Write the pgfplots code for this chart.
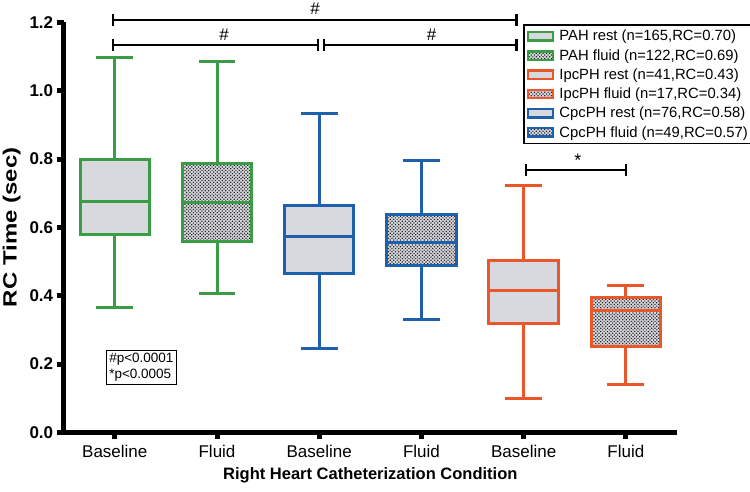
\documentclass[border=0pt]{standalone}
\usepackage{fontspec}
\setmainfont{Liberation Sans}
\usepackage{pgfplots}
\pgfplotsset{compat=1.18}
\usepgfplotslibrary{statistics}
\usetikzlibrary{patterns.meta}
\definecolor{pahgreen}{RGB}{58,156,68}
\definecolor{cpcblue}{RGB}{30,96,172}
\definecolor{ipcorange}{RGB}{235,86,42}
\definecolor{boxgray}{RGB}{216,217,223}
\tikzset{dotpat/.style={postaction={pattern={Dots[distance=2.4pt,radius=0.85pt,angle=45]},pattern color=black!85}}}
\pgfplotsset{
  restleg/.style={legend image code/.code={\draw[line width=2.4pt,draw=#1,fill=boxgray] (0pt,-4.2pt) rectangle (25pt,4.2pt);}},
  fluidleg/.style={legend image code/.code={\draw[line width=2.4pt,draw=#1,fill=boxgray,dotpat] (0pt,-4.2pt) rectangle (25pt,4.2pt);}},
  restbox/.style={line width=3pt, draw=#1, fill=boxgray, solid, forget plot,
     boxplot/every whisker/.style={line width=3pt},
     boxplot/every median/.style={line width=3pt}},
  fluidbox/.style={line width=3pt, draw=#1, fill=boxgray, solid, forget plot,
     boxplot/every box/.style={dotpat},
     boxplot/every whisker/.style={line width=3pt},
     boxplot/every median/.style={line width=3pt}},
}
\begin{document}
\begin{tikzpicture}
\path[use as bounding box] (-63.7pt,-58.7pt) rectangle (686.3pt,432.4pt);
\begin{axis}[
  at={(0pt,0pt)}, anchor=south west,
  scale only axis, width=613.3pt, height=410pt,
  xmin=-0.5, xmax=5.5, ymin=0, ymax=1.2,
  clip=false,
  axis lines=left,
  axis line style={line width=5pt,-},
  xtick={0,1,2,3,4,5},
  xticklabels={Baseline,Fluid,Baseline,Fluid,Baseline,Fluid},
  ytick={0,0.2,0.4,0.6,0.8,1.0,1.2},
  tick align=outside,
  major tick length=7pt,
  every tick/.style={line width=5pt,black},
  boxplot/draw direction=y,
  /pgf/number format/assume math mode=true,
  yticklabel style={/pgf/number format/.cd,fixed,fixed zerofill,precision=1,/tikz/.cd,
     font=\bfseries\fontsize{17}{17}\selectfont},
  xticklabel style={font=\fontsize{17}{17}\selectfont, yshift=-2pt},
  xlabel={Right Heart Catheterization Condition},
  ylabel={\bfseries\fontsize{24}{24}\selectfont\scalebox{1}[0.8]{RC Time (sec)}},
  xlabel style={font=\bfseries\fontsize{16.5}{17}\selectfont, yshift=-3pt},
  ylabel style={yshift=2pt},
  legend style={at={(0.7494,0.995)}, anchor=north west, draw=black, line width=1.5pt,
     font=\fontsize{14.8}{16}\selectfont, row sep=3pt, inner xsep=3pt, inner ysep=3pt,
     nodes={inner xsep=5pt}},
  legend cell align=left,
]
\addlegendimage{restleg=pahgreen}\addlegendentry{PAH rest (n=165,RC=0.70)}
\addlegendimage{fluidleg=pahgreen}\addlegendentry{PAH fluid (n=122,RC=0.69)}
\addlegendimage{restleg=ipcorange}\addlegendentry{IpcPH rest (n=41,RC=0.43)}
\addlegendimage{fluidleg=ipcorange}\addlegendentry{IpcPH fluid (n=17,RC=0.34)}
\addlegendimage{restleg=cpcblue}\addlegendentry{CpcPH rest (n=76,RC=0.58)}
\addlegendimage{fluidleg=cpcblue}\addlegendentry{CpcPH fluid (n=49,RC=0.57)}

% PAH rest
\addplot[restbox=pahgreen, boxplot prepared={draw position=0, lower whisker=0.365, lower quartile=0.578, median=0.677, upper quartile=0.800, upper whisker=1.097, box extend=0.68, whisker extend=0.36}] coordinates {};
% PAH fluid
\addplot[fluidbox=pahgreen, boxplot prepared={draw position=1, lower whisker=0.407, lower quartile=0.560, median=0.673, upper quartile=0.787, upper whisker=1.087, box extend=0.68, whisker extend=0.36}] coordinates {};
% CpcPH rest
\addplot[restbox=cpcblue, boxplot prepared={draw position=2, lower whisker=0.247, lower quartile=0.465, median=0.574, upper quartile=0.664, upper whisker=0.934, box extend=0.68, whisker extend=0.36}] coordinates {};
% CpcPH fluid
\addplot[fluidbox=cpcblue, boxplot prepared={draw position=3, lower whisker=0.331, lower quartile=0.488, median=0.556, upper quartile=0.638, upper whisker=0.797, box extend=0.68, whisker extend=0.36}] coordinates {};
% IpcPH rest
\addplot[restbox=ipcorange, boxplot prepared={draw position=4, lower whisker=0.100, lower quartile=0.319, median=0.414, upper quartile=0.502, upper whisker=0.724, box extend=0.68, whisker extend=0.36}] coordinates {};
% IpcPH fluid
\addplot[fluidbox=ipcorange, boxplot prepared={draw position=5, lower whisker=0.141, lower quartile=0.251, median=0.356, upper quartile=0.394, upper whisker=0.429, box extend=0.68, whisker extend=0.36}] coordinates {};

% significance brackets
\draw[line width=2.2pt] (axis cs:-0.02,1.207) -- (axis cs:3.93,1.207);
\draw[line width=2.2pt] ([yshift=-6pt]axis cs:-0.02,1.207) -- ([yshift=6pt]axis cs:-0.02,1.207);
\draw[line width=2.2pt] ([yshift=-6pt]axis cs:3.93,1.207) -- ([yshift=6pt]axis cs:3.93,1.207);
\node[font=\fontsize{17}{17}\selectfont] at ([yshift=11pt]axis cs:1.96,1.207) {\#};

\draw[line width=2.2pt] (axis cs:-0.02,1.133) -- (axis cs:1.985,1.133);
\draw[line width=2.2pt] ([yshift=-6pt]axis cs:-0.02,1.133) -- ([yshift=6pt]axis cs:-0.02,1.133);
\draw[line width=2.2pt] ([yshift=-6pt]axis cs:1.985,1.133) -- ([yshift=6pt]axis cs:1.985,1.133);
\node[font=\fontsize{17}{17}\selectfont] at ([yshift=11pt]axis cs:1.07,1.133) {\#};

\draw[line width=2.2pt] (axis cs:2.043,1.133) -- (axis cs:3.93,1.133);
\draw[line width=2.2pt] ([yshift=-6pt]axis cs:2.043,1.133) -- ([yshift=6pt]axis cs:2.043,1.133);
\draw[line width=2.2pt] ([yshift=-6pt]axis cs:3.93,1.133) -- ([yshift=6pt]axis cs:3.93,1.133);
\node[font=\fontsize{17}{17}\selectfont] at ([yshift=11pt]axis cs:3.10,1.133) {\#};

\draw[line width=2.2pt] (axis cs:4.02,0.768) -- (axis cs:5.0,0.768);
\draw[line width=2.2pt] ([yshift=-6pt]axis cs:4.02,0.768) -- ([yshift=6pt]axis cs:4.02,0.768);
\draw[line width=2.2pt] ([yshift=-6pt]axis cs:5.0,0.768) -- ([yshift=6pt]axis cs:5.0,0.768);
\node[font=\fontsize{18}{18}\selectfont] at ([yshift=10pt]axis cs:4.53,0.768) {*};

\node[draw, line width=1.5pt, align=left, inner sep=3pt, font=\fontsize{13.5}{16}\selectfont]
  at (axis cs:0.26,0.19) {\#p<0.0001\\*p<0.0005};
\end{axis}
\end{tikzpicture}
\end{document}
